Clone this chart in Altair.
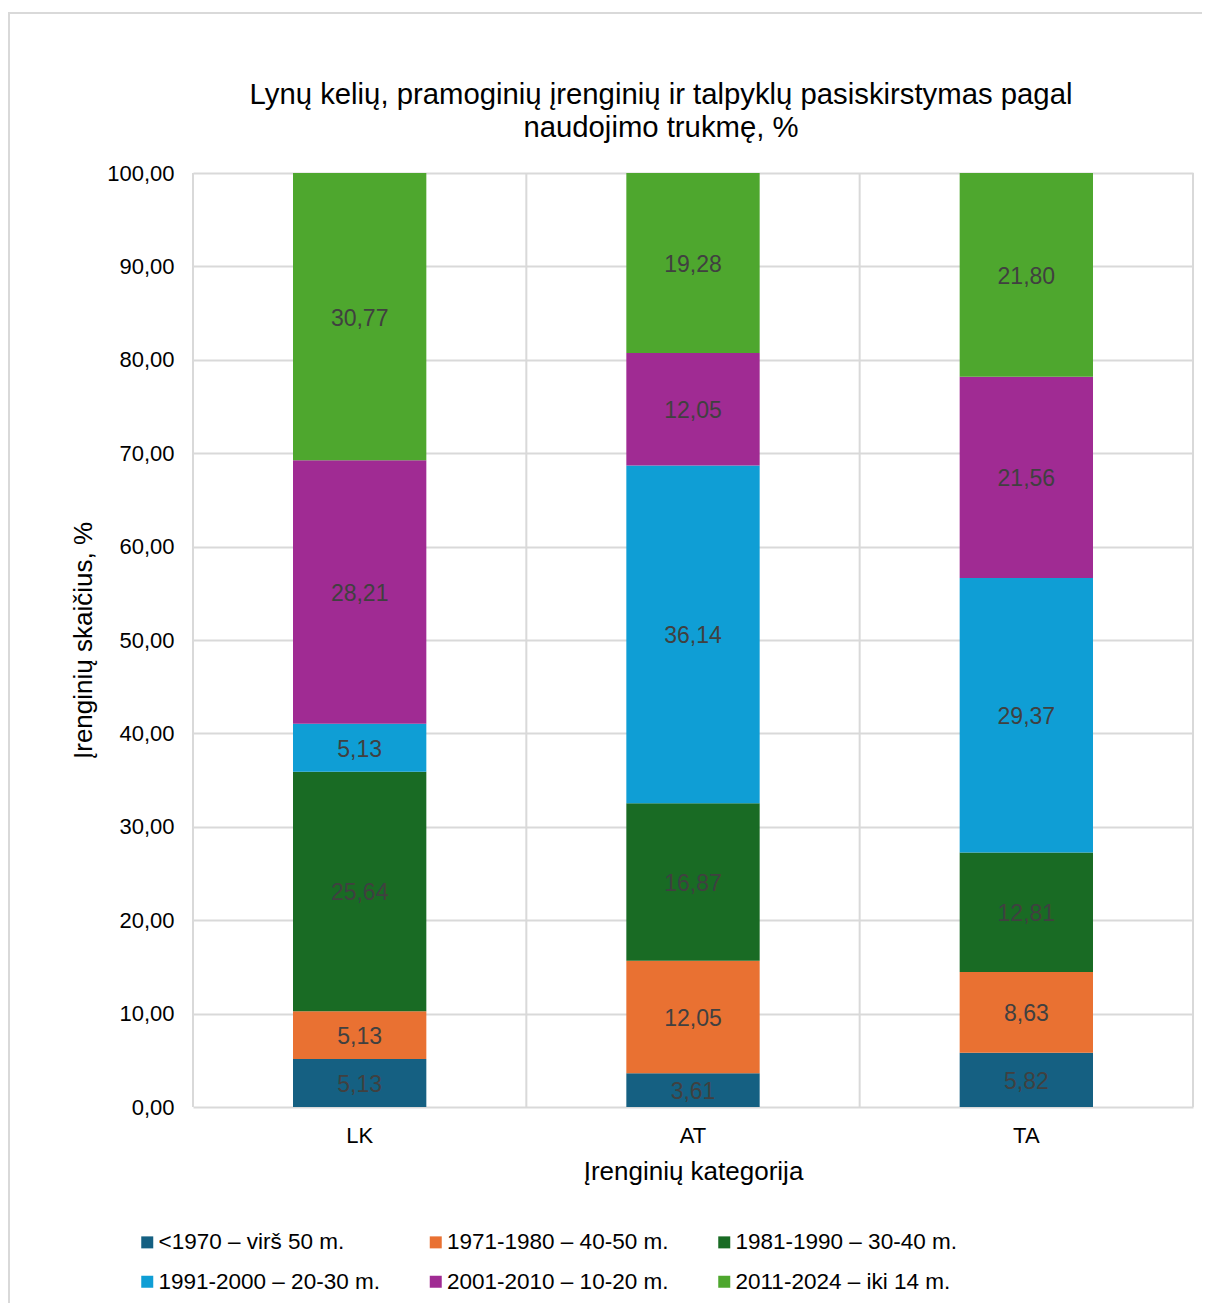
import altair as alt
import pandas as pd

categories = ["LK", "AT", "TA"]
series = [
    "<1970 – virš 50 m.",
    "1971-1980 – 40-50 m.",
    "1981-1990 – 30-40 m.",
    "1991-2000 – 20-30 m.",
    "2001-2010 – 10-20 m.",
    "2011-2024 – iki 14 m.",
]
colors = ["#156082", "#E97132", "#196B24", "#0F9ED5", "#A02B93", "#4EA72E"]
lk_values = [5.13, 5.13, 25.64, 5.13, 28.21, 30.77]
at_values = [3.61, 12.05, 16.87, 36.14, 12.05, 19.28]
ta_values = [5.82, 8.63, 12.81, 29.37, 21.56, 21.80]
y_ticks = [0, 10, 20, 30, 40, 50, 60, 70, 80, 90, 100]
boundaries = [0, 1, 2, 3]

rows = []
for cat, vals in zip(categories, [lk_values, at_values, ta_values]):
    for i, (s, v) in enumerate(zip(series, vals)):
        rows.append({"cat": cat, "series": s, "order": i, "value": v})
df = pd.DataFrame(rows)

# legend fills column by column: reorder so rows read left-to-right
legend_order = [0, 3, 1, 4, 2, 5]
legend_domain = [series[i] for i in legend_order]
legend_range = [colors[i] for i in legend_order]

FONT = "Liberation Sans"
GRID = "#d9d9d9"

yscale = alt.Scale(domain=[0, 100], nice=False)
xscale = alt.Scale(paddingInner=0.6, paddingOuter=0.3)

x_enc = alt.X(
    "cat:N",
    sort=categories,
    scale=xscale,
    axis=alt.Axis(
        title="Įrenginių kategorija",
        labelAngle=0,
        ticks=False,
        domain=False,
        grid=False,
        labelPadding=18,
        titlePadding=12,
        labelFontSize=22,
        titleFontSize=26,
        labelFont=FONT,
        titleFont=FONT,
        titleFontWeight="normal",
        labelColor="#000000",
        titleColor="#000000",
    ),
)

vlines = (
    alt.Chart(pd.DataFrame({"b": boundaries}))
    .mark_rule(color=GRID, strokeWidth=2)
    .encode(x=alt.X("b:Q", scale=alt.Scale(domain=[0, 3], nice=False), axis=None))
)

bars = (
    alt.Chart(df)
    .mark_bar()
    .encode(
        x=x_enc,
        y=alt.Y(
            "value:Q",
            stack="zero",
            scale=yscale,
            axis=alt.Axis(
                values=y_ticks,
                labelExpr="replace(format(datum.value, '.2f'), '.', ',')",
                title="Įrenginių skaičius, %",
                grid=True,
                gridColor=GRID,
                gridWidth=2,
                domain=False,
                ticks=False,
                labelPadding=19,
                titlePadding=10,
                labelFontSize=22,
                titleFontSize=26,
                labelFont=FONT,
                titleFont=FONT,
                titleFontWeight="normal",
                labelColor="#000000",
                titleColor="#000000",
            ),
        ),
        color=alt.Color(
            "series:N",
            scale=alt.Scale(domain=legend_domain, range=legend_range),
            legend=alt.Legend(
                title=None,
                orient="none",
                legendX=-57,
                legendY=1058,
                columns=3,
                symbolType="square",
                symbolSize=144,
                symbolStrokeWidth=0,
                labelFontSize=22.5,
                labelFont=FONT,
                labelColor="#000000",
                labelOffset=0,
                columnPadding=44.5,
                rowPadding=16.5,
                labelLimit=400,
                padding=0,
            ),
        ),
        order=alt.Order("order:Q"),
    )
)

labels = (
    alt.Chart(df)
    .transform_stack(
        stack="value",
        groupby=["cat"],
        sort=[alt.SortField("order")],
        as_=["y0", "y1"],
    )
    .transform_calculate(
        mid="(datum.y0 + datum.y1) / 2",
        lbl="replace(format(datum.value, '.2f'), '.', ',')",
    )
    .mark_text(font=FONT, fontSize=23, color="#404040", baseline="middle", align="center", dy=2)
    .encode(
        x=alt.X("cat:N", sort=categories, scale=xscale),
        y=alt.Y("mid:Q", scale=yscale),
        text="lbl:N",
    )
)

border = (
    alt.Chart(pd.DataFrame({"a": [0]}))
    .mark_rect(fill="transparent", stroke=GRID, strokeWidth=2)
    .encode(
        x=alt.value(-184),
        x2=alt.value(1100),
        y=alt.value(-160),
        y2=alt.value(1300),
    )
)

chart = (
    alt.layer(vlines, alt.layer(bars, labels), border)
    .resolve_scale(x="independent")
    .properties(
        width=1000,
        height=934,
        autosize=alt.AutoSizeParams(type="none"),
        padding={"left": 185, "top": 165, "right": 9, "bottom": 196},
        title=alt.Title(
            ["Lynų kelių, pramoginių įrenginių ir talpyklų pasiskirstymas pagal", "naudojimo trukmę, %"],
            fontSize=29.3,
            font=FONT,
            fontWeight="normal",
            color="#000000",
            lineHeight=33,
            dx=-32,
            dy=161,
            offset=30,
            anchor="middle",
            frame="group",
        ),
    )
    .configure_view(stroke="transparent")
)

chart.save("out.html", embed_options={"renderer": "svg", "actions": False})
